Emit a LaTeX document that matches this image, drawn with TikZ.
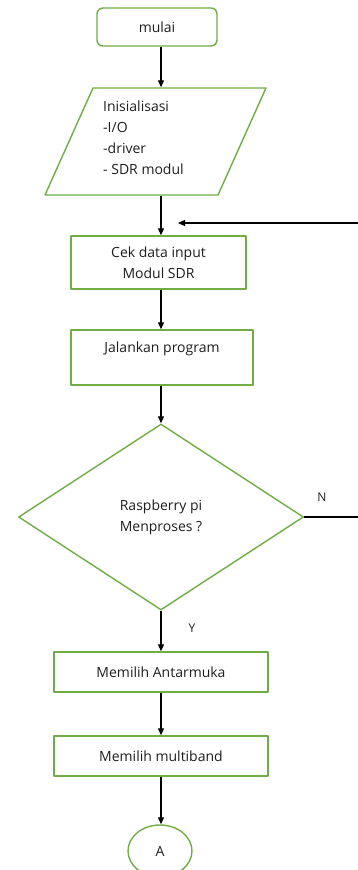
\documentclass[tikz,border=0pt]{standalone}
\usepackage{fontspec}
\setmainfont{Open Sans}
\usetikzlibrary{shapes.geometric,arrows.meta}
\definecolor{hijau}{RGB}{112,173,71}
\definecolor{teks}{RGB}{30,30,30}
\begin{document}
\begin{tikzpicture}[x=1pt,y=-1pt,>={Triangle[length=7pt,width=6pt]},line join=round,
	font=\fontsize{14}{21}\selectfont,text=teks,
	kotak/.style={draw=hijau,line width=1.4pt,inner sep=0pt,align=center},
	terminal/.style={kotak,rounded corners=6pt},
	panah/.style={->,line width=1.2pt}]
	\useasboundingbox (0,0) rectangle (358,870);
	\clip (0,0) rectangle (358,870);
	\coordinate (jalur) at (161,0);
	\node[terminal,minimum width=120pt,minimum height=38pt] (mulai) at (157,27) {mulai};
	\node[kotak,trapezium,inner sep=4pt,trapezium left angle=69,trapezium right angle=111,trapezium stretches,minimum width=221pt,minimum height=107pt] (init) at (155.5,141.5) {};
	\node[anchor=north west,align=left,inner sep=0pt] (initteks) at (103,101) {Inisialisasi\\-I/O\\-driver\\- SDR modul};
	\node[kotak,minimum width=175pt,minimum height=53pt] (cek) at (158.5,262.5) {Cek data input\\Modul SDR};
	\node[kotak,minimum width=182pt,minimum height=55pt] (jalan) at (162,357.5) {Jalankan program\\~};
	\node[kotak,diamond,minimum width=285pt,minimum height=186pt] (tanya) at (161,517) {Raspberry pi\\Menproses ?};
	\node[kotak,minimum width=214pt,minimum height=40pt] (antarmuka) at (161,672) {Memilih Antarmuka};
	\node[kotak,minimum width=214pt,minimum height=40pt] (multiband) at (161,756) {Memilih multiband};
	\node[kotak,ellipse,minimum width=64pt,minimum height=52pt] (A) at (160,851) {A};
	\coordinate (balik) at (358,223);
	\coordinate (balikujung) at (178,223);
	\draw[panah] (mulai.south-|jalur) -- (init.north-|jalur);
	\draw[panah] (init.south-|jalur) -- (cek.north-|jalur);
	\draw[panah] (balik) -- (balikujung);
	\draw[panah] (cek.south-|jalur) -- (jalan.north-|jalur);
	\draw[panah] (jalan.south-|jalur) -- (tanya.north);
	\draw[line width=1.2pt] (tanya.east) -- (tanya.east-|balik);
	\node[font=\fontsize{12}{14}\selectfont] (n) at (322,497) {N};
	\draw[panah] (tanya.south) -- (antarmuka.north-|tanya.south);
	\node[font=\fontsize{12}{14}\selectfont] (y) at (192,628) {Y};
	\draw[panah] (antarmuka.south-|jalur) -- (multiband.north-|jalur);
	\draw[panah] (multiband.south-|jalur) -- (A.north-|jalur);
\end{tikzpicture}
\end{document}
